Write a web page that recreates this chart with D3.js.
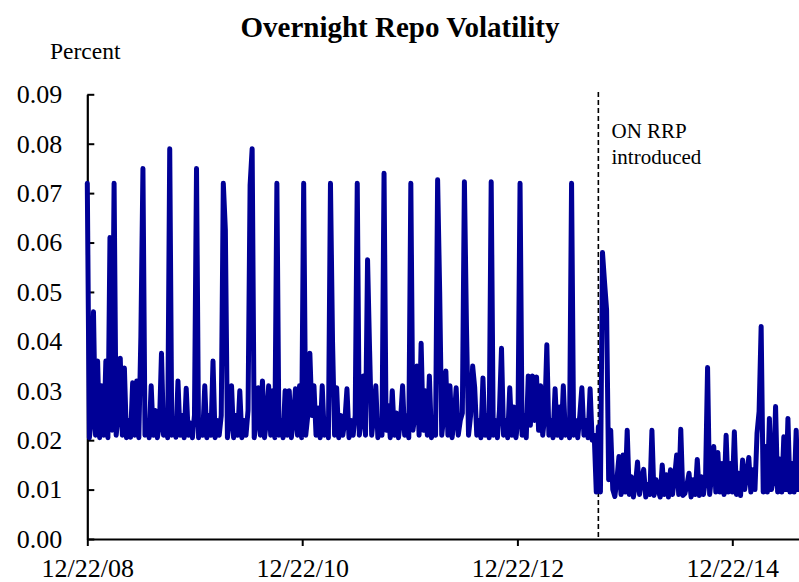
<!DOCTYPE html>
<html>
<head>
<meta charset="utf-8">
<script src="https://cdn.jsdelivr.net/npm/d3@7"></script>
<style>
  body { margin: 0; background: #fff; }
  svg { display: block; }
  text { font-family: "Liberation Serif", "Times New Roman", serif; fill: #000; }
</style>
</head>
<body>
<script>
//chart values
var startDate = new Date(2008, 11, 22); //first observation, one value per week after that
var tickDates = [new Date(2008, 11, 22), new Date(2010, 11, 22), new Date(2012, 11, 22), new Date(2014, 11, 22)];
var yTicks = [0, 0.01, 0.02, 0.03, 0.04, 0.05, 0.06, 0.07, 0.08, 0.09];
var rrpDate = new Date(2013, 8, 23); //ON RRP introduced
var rrpLabel = ["ON RRP", "introduced"];

//weekly overnight repo volatility, percent
var repoVol = [
  0.072, 0.0205, 0.024, 0.046, 0.021, 0.036, 0.0205, 0.031, 0.021, 0.036,
  0.0205, 0.061, 0.022, 0.072, 0.021, 0.025, 0.0366, 0.021, 0.0346, 0.0205,
  0.024, 0.0206, 0.0316, 0.021, 0.032, 0.0205, 0.041, 0.075, 0.021, 0.024,
  0.0205, 0.031, 0.021, 0.026, 0.0205, 0.023, 0.0376, 0.021, 0.025, 0.0205,
  0.079, 0.021, 0.024, 0.0206, 0.032, 0.021, 0.025, 0.0205, 0.0305, 0.021,
  0.0235, 0.0205, 0.025, 0.075, 0.0205, 0.024, 0.021, 0.031, 0.0205, 0.025,
  0.021, 0.036, 0.0205, 0.024, 0.021, 0.025, 0.072, 0.0625, 0.0205, 0.024,
  0.031, 0.0205, 0.025, 0.021, 0.030, 0.0205, 0.024, 0.021, 0.026, 0.0716,
  0.079, 0.0205, 0.024, 0.0306, 0.021, 0.032, 0.0205, 0.024, 0.031, 0.021,
  0.030, 0.0205, 0.072, 0.021, 0.024, 0.0205, 0.030, 0.021, 0.030, 0.0205,
  0.024, 0.0304, 0.021, 0.031, 0.0205, 0.072, 0.021, 0.025, 0.0376, 0.025,
  0.031, 0.021, 0.0265, 0.0205, 0.031, 0.021, 0.024, 0.0205, 0.072, 0.040,
  0.021, 0.0306, 0.0205, 0.025, 0.021, 0.024, 0.0304, 0.0205, 0.024, 0.021,
  0.025, 0.072, 0.021, 0.024, 0.033, 0.021, 0.0565, 0.038, 0.021, 0.025,
  0.031, 0.0205, 0.024, 0.021, 0.074, 0.022, 0.027, 0.0205, 0.030, 0.021,
  0.0255, 0.0205, 0.024, 0.031, 0.021, 0.025, 0.0205, 0.072, 0.022, 0.025,
  0.035, 0.021, 0.0396, 0.022, 0.030, 0.021, 0.033, 0.0205, 0.024, 0.021,
  0.0727, 0.050, 0.021, 0.025, 0.034, 0.021, 0.031, 0.0205, 0.024, 0.0306,
  0.021, 0.024, 0.0255, 0.0723, 0.043, 0.021, 0.025, 0.035, 0.0306, 0.021,
  0.024, 0.0205, 0.0326, 0.021, 0.025, 0.0205, 0.0723, 0.021, 0.024, 0.0205,
  0.026, 0.0386, 0.021, 0.024, 0.0205, 0.0306, 0.021, 0.0267, 0.0205, 0.024,
  0.072, 0.021, 0.025, 0.0205, 0.033, 0.023, 0.033, 0.024, 0.0328, 0.022,
  0.031, 0.021, 0.025, 0.0393, 0.021, 0.024, 0.0205, 0.0304, 0.021, 0.0267,
  0.0205, 0.031, 0.021, 0.024, 0.0205, 0.072, 0.021, 0.024, 0.0205, 0.025,
  0.0306, 0.021, 0.024, 0.0205, 0.0304, 0.020, 0.021, 0.0095, 0.0227, 0.0095,
  0.058, 0.052, 0.0463, 0.012, 0.022, 0.010, 0.0086, 0.012, 0.0167, 0.009,
  0.017, 0.0095, 0.022, 0.009, 0.0126, 0.0085, 0.011, 0.0156, 0.009, 0.012,
  0.0141, 0.0085, 0.011, 0.009, 0.022, 0.0088, 0.012, 0.0099, 0.0085, 0.015,
  0.009, 0.013, 0.0085, 0.014, 0.009, 0.0125, 0.017, 0.009, 0.0222, 0.0088,
  0.0092, 0.011, 0.0133, 0.0085, 0.012, 0.009, 0.0161, 0.0088, 0.0126, 0.009,
  0.012, 0.0347, 0.009, 0.013, 0.0187, 0.0095, 0.0175, 0.0095, 0.0153, 0.009,
  0.021, 0.0095, 0.0153, 0.0095, 0.0217, 0.009, 0.0133, 0.0088, 0.016, 0.010,
  0.013, 0.0165, 0.0095, 0.014, 0.010, 0.0214, 0.0258, 0.043, 0.0095, 0.0187,
  0.0095, 0.0244, 0.010, 0.012, 0.0268, 0.0095, 0.0162, 0.0095, 0.0207, 0.010,
  0.0244, 0.0095, 0.0153, 0.0095, 0.022, 0.0100
];

(function(){

var width = 799,
    height = 582,
    plotLeft = 87.3,
    plotRight = 799,
    plotTop = 94.3,
    plotBottom = 539;

var svg = d3.select("body")
    .append("svg")
    .attr("width", width)
    .attr("height", height);

//time scale: 12/22/08 to 12/22/14 spans 87.3 to 732.3, the series runs on to the frame edge
var x = d3.scaleTime()
    .domain([tickDates[0], tickDates[3]])
    .range([plotLeft, 732.3]);
x.domain([tickDates[0], x.invert(plotRight)]).range([plotLeft, plotRight]);

var y = d3.scaleLinear()
    .domain([0, 0.09])
    .range([plotBottom, plotTop]);

var series = repoVol.map(function(v, i){
    return { date: d3.timeDay.offset(startDate, i * 7), value: v };
});

//title and unit label
svg.append("text")
    .attr("x", 400)
    .attr("y", 37)
    .attr("text-anchor", "middle")
    .style("font-size", "29px")
    .style("font-weight", "bold")
    .text("Overnight Repo Volatility");

svg.append("text")
    .attr("x", 50)
    .attr("y", 59)
    .style("font-size", "23.5px")
    .text("Percent");

//axes
var yAxis = svg.append("g")
    .attr("transform", "translate(" + plotLeft + ",0)")
    .call(d3.axisLeft(y)
        .tickValues(yTicks)
        .tickFormat(d3.format(".2f"))
        .tickSizeInner(-7)
        .tickSizeOuter(0)
        .tickPadding(25));

var xAxis = svg.append("g")
    .attr("transform", "translate(0," + plotBottom + ")")
    .call(d3.axisBottom(x)
        .tickValues(tickDates)
        .tickFormat(d3.timeFormat("%m/%d/%y"))
        .tickSizeInner(7)
        .tickSizeOuter(0));

[yAxis, xAxis].forEach(function(g){
    g.select(".domain").attr("stroke", "#000").attr("stroke-width", 2.2);
    g.selectAll(".tick line").attr("stroke", "#000").attr("stroke-width", 2);
    g.selectAll("text")
        .style("font-family", "'Liberation Serif', 'Times New Roman', serif")
        .style("font-size", "26px")
        .attr("fill", "#000");
});
xAxis.selectAll("text").attr("y", 38).attr("dy", 0);

//ON RRP marker
svg.append("line")
    .attr("x1", x(rrpDate))
    .attr("x2", x(rrpDate))
    .attr("y1", 92)
    .attr("y2", plotBottom)
    .attr("stroke", "#000")
    .attr("stroke-width", 1.6)
    .attr("stroke-dasharray", "5,3");

svg.append("text")
    .attr("x", 611.5)
    .attr("y", 138)
    .style("font-size", "21px")
    .selectAll("tspan")
    .data(rrpLabel)
    .enter()
    .append("tspan")
    .attr("x", 611.5)
    .attr("dy", function(d, i){ return i ? 26 : 0; })
    .text(function(d){ return d; });

//volatility line
var line = d3.line()
    .x(function(d){ return x(d.date); })
    .y(function(d){ return y(d.value); });

svg.append("path")
    .datum(series)
    .attr("d", line)
    .attr("fill", "none")
    .attr("stroke", "#000096")
    .attr("stroke-width", 5)
    .attr("stroke-linejoin", "round")
    .attr("stroke-linecap", "round");

})();
</script>
</body>
</html>
